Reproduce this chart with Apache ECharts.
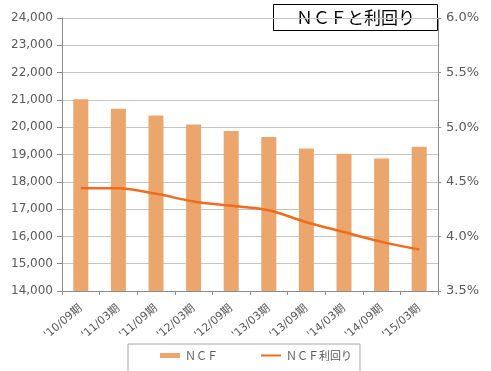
<!DOCTYPE html>
<html>
<head>
<meta charset="utf-8">
<script src="https://cdn.jsdelivr.net/npm/echarts@6/dist/echarts.min.js"></script>
<style>
  html, body { margin: 0; padding: 0; background: #fff; }
  #main { width: 491px; height: 371px; }
</style>
</head>
<body>
<div id="main"></div>
<script>
'use strict';

// 期
var categories = ["'10/09期", "'11/03期", "'11/09期", "'12/03期", "'12/09期",
    "'13/03期", "'13/09期", "'14/03期", "'14/09期", "'15/03期"];
// ＮＣＦ（百万円）
var ncfValues = [21020, 20680, 20430, 20100, 19860, 19640, 19220, 19030, 18850, 19280];
// ＮＣＦ利回り（%）
var yieldValues = [4.44, 4.44, 4.39, 4.32, 4.28, 4.24, 4.13, 4.04, 3.95, 3.88];
// 軸の範囲
var leftAxisRange = [14000, 24000, 1000];
var rightAxisRange = [3.5, 6.0, 0.5];

var labelColor = '#595959';
var axisColor = '#8c8c8c';

function setChart() {
    var option = {
        animation: false,
        textStyle: {
            fontFamily: '"DejaVu Sans", "Noto Sans CJK JP", sans-serif'
        },
        grid: {
            left: 62,
            right: 53,
            top: 18,
            bottom: 80,
            containLabel: false
        },
        legend: {
            left: 128,
            top: 344,
            padding: [6, 8, 12, 32],
            borderColor: '#a6a6a6',
            borderWidth: 1,
            itemWidth: 20,
            itemHeight: 5,
            itemGap: 42,
            textStyle: {
                color: labelColor,
                fontSize: 11,
                fontFamily: '"Noto Sans CJK JP", sans-serif'
            },
            data: [
                { name: 'ＮＣＦ', icon: 'rect' },
                { name: 'ＮＣＦ利回り', itemStyle: { opacity: 0 } }
            ]
        },
        xAxis: {
            type: 'category',
            data: categories,
            axisLine: { lineStyle: { color: axisColor } },
            axisTick: { show: true, length: 4, lineStyle: { color: axisColor } },
            axisLabel: {
                rotate: 40,
                color: labelColor,
                fontSize: 11,
                margin: 16,
                fontFamily: '"DejaVu Sans", "Noto Sans CJK JP", sans-serif'
            }
        },
        yAxis: [{
            type: 'value',
            min: leftAxisRange[0],
            max: leftAxisRange[1],
            interval: leftAxisRange[2],
            axisLine: { show: true, lineStyle: { color: axisColor } },
            axisTick: { show: true, length: 5, lineStyle: { color: axisColor } },
            axisLabel: {
                color: labelColor,
                fontSize: 12,
                margin: 9,
                formatter: function(v) {
                    return v.toLocaleString('en-US');
                }
            },
            splitLine: { lineStyle: { color: '#c4c4c4' } }
        }, {
            type: 'value',
            min: rightAxisRange[0],
            max: rightAxisRange[1],
            interval: rightAxisRange[2],
            axisLine: { show: true, lineStyle: { color: axisColor } },
            axisTick: { show: true, length: 3, lineStyle: { color: axisColor } },
            axisLabel: {
                color: labelColor,
                fontSize: 13,
                margin: 8,
                formatter: function(v) {
                    return v.toFixed(1) + '%';
                }
            },
            splitLine: { show: false }
        }],
        series: [{
            name: 'ＮＣＦ',
            type: 'bar',
            data: ncfValues,
            barWidth: 15,
            itemStyle: {
                color: '#eba66d'
            }
        }, {
            name: 'ＮＣＦ利回り',
            type: 'line',
            yAxisIndex: 1,
            data: yieldValues,
            smooth: 0.3,
            symbol: 'none',
            lineStyle: {
                color: '#f26b1b',
                width: 2.5
            },
            itemStyle: { color: '#f26b1b' }
        }],
        graphic: [{
            type: 'group',
            left: 273,
            top: 4,
            children: [{
                type: 'rect',
                shape: { x: 0, y: 0, width: 164, height: 26 },
                style: { fill: '#fff', stroke: '#000', lineWidth: 1 }
            }, {
                type: 'text',
                x: 82,
                y: 13,
                style: {
                    text: 'ＮＣＦと利回り',
                    fill: '#000',
                    fontSize: 17,
                    fontFamily: '"Noto Sans CJK JP", sans-serif',
                    align: 'center',
                    verticalAlign: 'middle'
                }
            }]
        }]
    };
    var myChart = echarts.init(document.getElementById('main'));
    myChart.setOption(option);
}

setChart();
</script>
</body>
</html>
